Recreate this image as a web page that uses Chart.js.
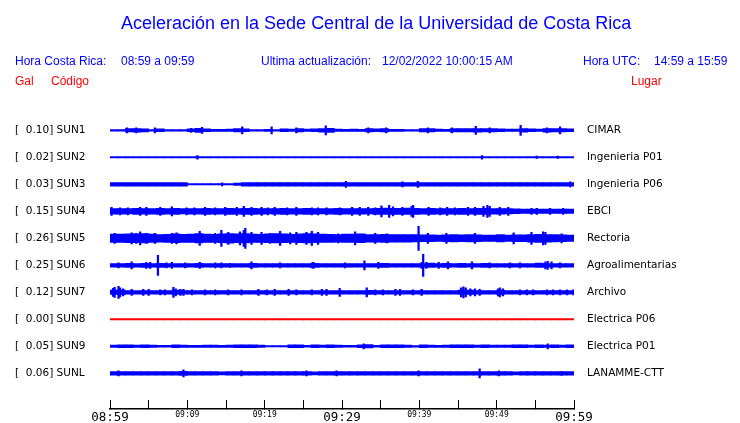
<!DOCTYPE html>
<html lang="es">
<head>
<meta charset="utf-8">
<title>Aceleración UCR</title>
<script src="https://cdn.jsdelivr.net/npm/chart.js@4.4.1/dist/chart.umd.min.js"></script>
<style>
  html, body { margin: 0; padding: 0; background: #fff; }
  #wrap { position: relative; width: 740px; height: 423px; overflow: hidden; }
  #chart { position: absolute; left: 0; top: 0; }
  .txt {
    position: absolute; white-space: pre; line-height: 1;
    font-family: "Liberation Sans", Arial, sans-serif; font-size: 12px; color: #0000ff;
  }
  .title { font-size: 18px; }
  .red { color: #ff0000; }
</style>
</head>
<body>
<div id="wrap">
  <canvas id="chart" width="740" height="423"></canvas>
  <div class="txt title" style="left:121px;top:14px">Aceleración en la Sede Central de la Universidad de Costa Rica</div>
  <div class="txt" style="left:15px;top:55px">Hora Costa Rica:</div>
  <div class="txt" style="left:121px;top:55px">08:59 a 09:59</div>
  <div class="txt" style="left:261px;top:55px">Ultima actualización:</div>
  <div class="txt" style="left:382px;top:55px">12/02/2022 10:00:15 AM</div>
  <div class="txt" style="left:583px;top:55px">Hora UTC:</div>
  <div class="txt" style="left:654px;top:55px">14:59 a 15:59</div>
  <div class="txt red" style="left:15px;top:75px">Gal</div>
  <div class="txt red" style="left:51px;top:75px">Código</div>
  <div class="txt red" style="left:631px;top:75px">Lugar</div>
</div>

<script>
// =========================
// DONNÉES
// =========================
// Temps en minutes depuis 08:59, amplitudes en unités relatives (demi-hauteur du tracé).

const codes = ["SUN1", "SUN2", "SUN3", "SUN4", "SUN5", "SUN6", "SUN7", "SUN8", "SUN9", "SUNL"];
const places = ["CIMAR", "Ingenieria P01", "Ingenieria P06", "EBCI", "Rectoria",
  "Agroalimentarias", "Archivo", "Electrica P06", "Electrica P01", "LANAMME-CTT"];
const peakGal = [0.10, 0.02, 0.03, 0.15, 0.26, 0.25, 0.12, 0.00, 0.05, 0.06];
const timeLabels = ["08:59", "09:09", "09:19", "09:29", "09:39", "09:49", "09:59"];

// enveloppe par minute (60 valeurs)
const envSUN1 = [0.8,0.8,1.6,1.8,1.5,0.8,1.4,0.8,0.8,0.8,1.4,2.0,1.4,1.0,1.0,1.2,1.6,1.4,0.8,0.8,
  1.0,0.8,1.4,1.2,1.6,1.2,1.4,1.8,2.0,1.2,1.0,1.2,1.0,1.6,1.4,1.6,1.0,1.0,0.8,0.8,
  1.6,1.6,1.2,1.0,1.6,1.6,1.6,1.8,1.6,1.6,1.4,1.2,1.2,1.8,1.4,1.2,1.8,1.6,1.6,1.4];
const envSUN2 = [0.6,0.6,0.6,0.6,0.6,0.6,0.6,0.6,0.6,0.6,0.6,0.6,0.6,0.6,0.6,0.6,0.6,0.6,0.6,0.6,
  0.6,0.6,0.6,0.6,0.6,0.6,0.6,0.6,0.6,0.6,0.6,0.6,0.6,0.6,0.6,0.6,0.6,0.6,0.6,0.6,
  0.6,0.6,0.6,0.6,0.6,0.6,0.6,0.6,0.6,0.6,0.6,0.6,0.6,0.6,0.6,0.6,0.6,0.6,0.6,0.6];
const envSUN3 = [1.8,1.8,1.8,1.8,1.8,1.8,1.8,1.8,1.8,1.8,0.6,0.6,0.6,0.6,0.6,0.6,1.2,1.8,1.8,1.8,
  1.8,1.8,1.8,1.8,1.8,1.8,1.8,1.8,1.8,1.8,1.8,1.8,1.8,1.8,1.8,1.8,1.8,1.8,1.8,1.8,
  1.8,1.8,1.8,1.8,1.8,1.8,1.8,1.8,1.8,1.8,1.8,1.8,1.8,1.8,1.8,1.8,1.8,1.8,1.8,1.8];
const envSUN4 = [2.8,2.8,2.6,3.0,2.8,2.8,3.0,2.8,3.0,2.6,2.8,2.8,3.0,2.8,2.8,3.0,2.8,3.0,3.0,2.8,
  2.6,2.8,3.0,2.8,2.8,3.0,2.8,2.6,2.8,3.0,2.8,2.8,2.8,2.6,3.0,3.2,3.0,3.0,3.2,3.0,
  2.8,3.0,2.8,2.8,2.8,3.0,2.8,3.0,3.0,2.8,2.8,2.6,2.4,2.2,2.2,2.2,2.2,2.2,2.2,2.2];
const envSUN5 = [4.2,4.2,4.4,4.4,4.6,4.2,3.8,4.0,4.4,4.0,4.2,4.6,4.2,4.0,4.4,4.8,4.4,4.6,4.2,4.0,
  4.4,4.6,4.4,4.0,4.4,4.6,4.4,4.2,4.0,3.8,4.2,4.2,4.4,3.8,3.8,4.0,3.8,3.8,3.8,3.6,
  3.4,3.4,3.2,3.4,3.6,3.4,3.6,3.4,3.2,3.2,3.6,3.2,3.4,3.4,3.8,4.0,3.8,3.6,3.4,3.2];
const envSUN6 = [1.8,1.8,2.0,1.8,2.0,1.8,2.0,1.8,1.8,1.8,1.8,2.0,1.8,1.8,1.8,1.8,1.8,1.8,2.0,1.8,
  1.8,1.8,1.8,1.8,1.8,1.8,2.0,1.8,1.8,1.8,1.8,1.8,1.8,1.8,1.8,2.0,1.8,1.8,1.8,1.8,
  1.8,2.2,1.8,2.0,1.8,2.0,1.8,1.8,2.0,1.8,1.8,1.8,1.8,1.8,1.8,2.2,1.8,1.8,1.8,1.8];
const envSUN7 = [2.2,2.2,1.8,1.8,1.8,1.8,1.8,1.8,2.2,1.8,1.8,1.8,1.8,1.8,1.8,1.8,1.8,1.8,1.8,1.8,
  1.8,1.8,1.8,1.8,1.8,1.8,1.8,1.8,1.8,1.8,1.8,1.8,1.8,2.0,1.8,1.8,1.8,1.8,1.8,1.8,
  1.8,1.8,1.8,1.8,1.8,2.2,2.2,1.8,1.8,1.8,2.2,1.8,1.8,1.8,1.8,1.8,1.8,1.8,1.8,1.8];
const envSUN8 = [0,0,0,0,0,0,0,0,0,0,0,0,0,0,0,0,0,0,0,0,
  0,0,0,0,0,0,0,0,0,0,0,0,0,0,0,0,0,0,0,0,
  0,0,0,0,0,0,0,0,0,0,0,0,0,0,0,0,0,0,0,0];
const envSUN9 = [1.2,1.4,1.4,1.2,1.4,1.2,0.9,0.9,1.4,1.2,1.0,1.0,1.2,1.2,1.0,1.2,1.4,1.4,1.4,1.2,
  0.7,0.7,0.7,1.4,1.4,0.9,1.4,1.2,1.4,1.2,0.9,0.9,1.4,1.6,0.9,1.4,1.4,1.4,1.2,0.8,
  1.4,1.2,1.0,1.2,1.4,1.4,1.4,1.2,1.4,1.2,1.2,1.2,1.4,1.4,1.2,1.4,1.2,1.4,1.2,1.4];
const envSUNL = [1.8,1.8,1.8,1.8,1.8,1.8,1.8,1.8,1.8,2.0,1.8,1.8,1.8,1.8,1.6,1.8,1.8,1.8,1.8,1.8,
  1.8,1.8,1.8,1.8,1.8,1.8,1.6,1.8,1.8,1.8,1.8,1.8,1.8,1.8,1.8,1.8,1.8,1.8,1.8,1.8,
  1.8,1.8,1.8,1.8,1.8,1.8,1.8,1.8,1.8,1.8,1.8,1.8,1.6,1.8,1.8,1.8,1.8,1.8,1.8,1.8];

// pics isolés [minute, amplitude]
const spkSUN1 = [[2.2,2.5],[3.4,2.5],[5.8,2.5],[10.5,2],[11.9,3],[17.1,3.5],[20.9,3.5],[24.1,2.5],
  [27.9,4.5],[33.4,2.5],[35.7,2.5],[41.1,2.5],[44.2,2.5],[47.3,4],[49.1,2.5],[53.1,5],[56.5,2.5],[58.2,3.5]];
const spkSUN2 = [[11.3,1.8],[48.1,1.8],[55.2,1.2],[57.9,1.2]];
const spkSUN3 = [[14.5,1.5],[30.5,3],[37.8,2.5],[39.8,3],[59.5,2.5]];
const spkSUN4 = [[0.2,4],[1.3,3.5],[2.3,3.5],[3.9,4],[4.7,4],[6.5,4],[8.0,4.5],[9.9,3.5],[10.9,3.5],
  [12.3,4],[13.6,3.5],[14.9,4],[16.4,4],[17.3,5],[18.3,4],[19.6,4],[20.4,3.5],[21.3,4],[22.9,3.5],
  [24.1,4],[26.1,3.5],[26.9,3.5],[28.0,3.5],[29.7,3.5],[31.3,4],[32.3,4],[33.4,4],[34.3,3.5],[35.1,5.5],
  [36.1,6],[36.6,4.5],[37.8,4],[39.0,5],[39.2,6],[41.2,4],[42.7,3.5],[43.6,4],[44.6,3.5],[46.3,4],
  [47.2,4],[48.3,5],[48.8,6],[49.1,5],[50.4,4],[51.5,4],[54.5,3],[55.2,3],[56.9,3],[58.6,3]];
const spkSUN5 = [[0.6,5],[2.8,5.5],[3.4,5],[3.9,6.5],[4.7,5],[5.8,5],[8.0,5],[8.6,5.5],[11.6,7],
  [13.6,5],[14.4,8],[15.3,6],[16.8,6.5],[17.3,8],[17.5,10],[18.3,6],[19.6,6],[20.7,5],[22.0,7],
  [23.3,5.5],[24.1,6],[25.4,6],[26.1,7],[26.9,6],[29.5,4.5],[31.7,6.5],[34.3,5],[35.8,4.5],
  [39.9,12],[41.1,5],[43.5,5],[47.2,5],[52.2,5.5],[54.5,6],[56.0,6.5],[56.3,6],[58.4,4.5]];
const spkSUN6 = [[1.1,2.5],[2.8,3.5],[4.7,3],[5.2,3],[6.2,10],[7.3,2.5],[8.0,3],[9.7,2.5],[11.6,3],
  [13.6,2.5],[14.4,2.5],[15.5,2],[18.3,3.5],[22.0,2.5],[26.1,2.5],[26.3,3],[30.4,2.5],[32.9,4.5],
  [34.7,3],[40.3,3],[40.5,11],[40.9,3],[42.5,3],[43.7,3.5],[46.8,3.5],[49.1,2.5],[51.7,2.5],
  [53.0,2.5],[56.3,3.5],[56.6,4],[57.1,3.5],[58.2,2.5]];
const spkSUN7 = [[0.4,4],[0.6,5],[1.1,6],[1.3,4.5],[1.7,3.5],[2.8,3],[4.3,3],[5.0,3],[6.5,2.5],
  [7.1,2.5],[8.2,5],[8.5,3.5],[9.1,3],[9.5,3],[10.6,2.5],[12.3,2.5],[13.6,2.5],[15.3,2.5],[17.0,2.5],
  [19.2,3],[20.3,2.5],[21.3,3],[23.1,3],[24.1,2.5],[26.1,2.5],[27.4,3],[28.0,3],[29.7,4],[33.2,4.5],
  [34.3,2.5],[35.3,2.5],[36.9,3],[37.5,3],[39.2,2.5],[40.3,3],[45.4,4.5],[45.7,5.5],[46.0,4.5],
  [46.6,3.5],[47.2,3.5],[47.8,3],[50.2,3.5],[50.4,4.5],[50.8,3.5],[53.0,2.5],[53.9,2.5],[54.7,2.5],
  [56.5,2.5],[57.3,2.5],[58.2,2.5],[59.1,2.5],[59.9,2.5]];
const spkSUN8 = [];
const spkSUN9 = [[32.8,2.5],[56.6,2.5]];
const spkSUNL = [[1.1,2.5],[9.5,3.5],[17.0,2.5],[25.4,2.5],[29.3,2.5],[39.9,2.5],[47.8,4.5],[50.3,2.5],[58.4,2]];

const envelopes = [envSUN1, envSUN2, envSUN3, envSUN4, envSUN5, envSUN6, envSUN7, envSUN8, envSUN9, envSUNL];
const spikeLists = [spkSUN1, spkSUN2, spkSUN3, spkSUN4, spkSUN5, spkSUN6, spkSUN7, spkSUN8, spkSUN9, spkSUNL];

// =========================
// CONSTRUCTION DES TRACÉS
// =========================

const AMP_SCALE = 1 / 27; // unités d'amplitude -> unités de ligne
const MIN_HALF = 0.6;

function traceDatasets(row) {
  const color = peakGal[row] === 0 ? "#ff0000" : "#0000ff";

  const band = envelopes[row].map((a, k) => {
    const h = Math.max(a, MIN_HALF) * AMP_SCALE;
    return { x: k + 0.5, y: [row - h, row + h] };
  });

  const peaks = spikeLists[row].map(([m, a]) => {
    const h = a * AMP_SCALE;
    return { x: m, y: [row - h, row + h] };
  });

  const common = { type: "bar", backgroundColor: color, borderWidth: 0, grouped: false };
  return [
    { ...common, data: band, barThickness: 8 },
    { ...common, data: peaks, barThickness: 1.6 },
  ];
}

const datasets = codes.flatMap((_, i) => traceDatasets(i));

// ticks des lignes + pas de marge verticale ajoutée par les labels
const rowTicks = (s) => { s.ticks = codes.map((_, i) => ({ value: i })); };
const fitRows = (width) => (s) => {
  s.width = width;
  s.paddingTop = 0;
  s.paddingBottom = 0;
};
const labelFont = { family: "DejaVu Sans", size: 10.5 };

new Chart(document.getElementById("chart"), {
  type: "bar",
  data: { datasets },
  options: {
    responsive: false,
    animation: false,
    events: [],
    layout: { padding: { top: 103.3, left: 15, right: 0, bottom: 0 } },
    plugins: { legend: { display: false }, tooltip: { enabled: false } },
    scales: {
      x: {
        type: "linear",
        min: 0,
        max: 60,
        offset: false,
        position: "bottom",
        grid: {
          offset: false, drawOnChartArea: false, drawTicks: true,
          tickLength: -9, color: "#000", lineWidth: 1,
        },
        border: { display: true, color: "#000", width: 1.5 },
        afterFit: (s) => { s.height = 14; },
        ticks: {
          stepSize: 5,
          autoSkip: false,
          maxRotation: 0,
          padding: 10,
          color: "#000",
          font: (ctx) => ({
            family: "DejaVu Sans Mono",
            size: ctx.tick && ctx.tick.value % 30 === 0 ? 12.5 : 8,
          }),
          callback: (v) => (v % 10 === 0 ? timeLabels[v / 10] : ""),
        },
      },
      y: {
        type: "linear",
        reverse: true,
        min: -1,
        max: 10.322,
        position: "left",
        grid: { display: false, drawTicks: false },
        border: { display: false },
        afterBuildTicks: rowTicks,
        afterFit: fitRows(95),
        ticks: {
          crossAlign: "far",
          padding: 0,
          autoSkip: false,
          color: "#000",
          font: labelFont,
          callback: (v) => `[  ${peakGal[v].toFixed(2)}] ${codes[v]}`,
        },
      },
      y2: {
        type: "linear",
        reverse: true,
        min: -1,
        max: 10.322,
        position: "right",
        grid: { display: false, drawTicks: false },
        border: { display: false },
        afterBuildTicks: rowTicks,
        afterFit: fitRows(166),
        ticks: {
          crossAlign: "near",
          padding: 13,
          autoSkip: false,
          color: "#000",
          font: labelFont,
          callback: (v) => places[v],
        },
      },
    },
  },
});
</script>
</body>
</html>
